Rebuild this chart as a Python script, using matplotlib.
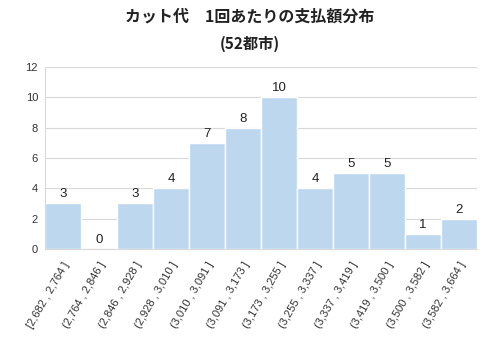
import matplotlib.pyplot as plt

plt.rcParams['font.family'] = ['Noto Sans CJK JP', 'DejaVu Sans']

# bins and counts
labels = ['[2,682 , 2,764 ]', '(2,764 , 2,846 ]', '(2,846 , 2,928 ]', '(2,928 , 3,010 ]',
          '(3,010 , 3,091 ]', '(3,091 , 3,173 ]', '(3,173 , 3,255 ]', '(3,255 , 3,337 ]',
          '(3,337 , 3,419 ]', '(3,419 , 3,500 ]', '(3,500 , 3,582 ]', '(3,582 , 3,664 ]']
counts = [3, 0, 3, 4, 7, 8, 10, 4, 5, 5, 1, 2]

fig = plt.figure(figsize=(5, 3.43), dpi=100)
ax = fig.add_axes([0.09, 0.274, 0.864, 0.531])

x = range(len(counts))
bars = ax.bar(x, counts, width=1.0, color='#BDD7EE', edgecolor='white', linewidth=1, zorder=2)
for xi, c in zip(x, counts):
    ax.text(xi, c + 0.2, str(c), ha='center', va='bottom', fontsize=9.5, color='#222222',
            family=['Liberation Sans', 'DejaVu Sans'])

ax.set_xlim(-0.5, len(counts) - 0.5)
ax.set_ylim(0, 12)
ax.set_yticks(range(0, 13, 2))
ax.set_xticks(list(x))
ax.set_xticklabels(labels, rotation=60, ha='right', rotation_mode='anchor', fontsize=8,
                   color='#333333', family=['Liberation Sans', 'DejaVu Sans'])
for t in ax.get_yticklabels():
    t.set_fontsize(8)
    t.set_color('#333333')
    t.set_family(['Liberation Sans', 'DejaVu Sans'])
ax.tick_params(axis='x', length=0, pad=8)
ax.tick_params(axis='y', length=0, pad=5)
ax.grid(axis='y', color='#D9D9D9', linewidth=0.8, zorder=0)
for s in ['top', 'right']:
    ax.spines[s].set_visible(False)
ax.spines['left'].set_color('#D9D9D9')
ax.spines['bottom'].set_color('#D9D9D9')

fig.text(0.5, 0.952, 'カット代\u30001回あたりの支払額分布', ha='center', va='center',
         fontsize=11.5, fontweight='bold', color='#222222')
fig.text(0.5, 0.872, '(52都市)', ha='center', va='center',
         fontsize=11, fontweight='bold', color='#222222')

fig.savefig('out.png', dpi=100)
